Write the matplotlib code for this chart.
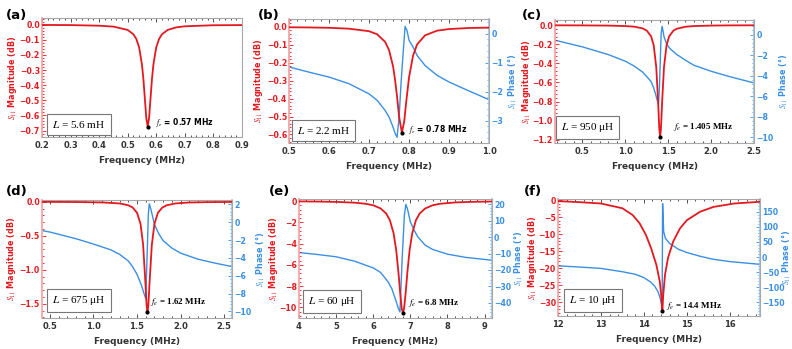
"""S11 magnitude / phase resonance plots for six inductor values, panels (a)-(f)."""

import matplotlib.pyplot as plt
from matplotlib.ticker import AutoMinorLocator

plt.rcParams["mathtext.fontset"] = "stix"
plt.rcParams["font.family"] = "DejaVu Sans"

RED = "#e3191f"
BLUE = "#3b8fe3"
RED_SPINE = "#f3a0a0"
BLUE_SPINE = "#9cc6f0"
GRAY = "#a8a8a8"

# ── (a) L = 5.6 mH ────────────────────────────────────────────────────────
a_freq = [0.20, 0.30, 0.40, 0.45, 0.50, 0.52, 0.53, 0.54, 0.55, 0.555, 0.56, 0.565,
          0.57, 0.575, 0.58, 0.585, 0.59, 0.60, 0.61, 0.62, 0.64, 0.67, 0.70, 0.80, 0.90]
a_mag = [-0.001, -0.002, -0.006, -0.012, -0.034, -0.063, -0.093, -0.149, -0.264, -0.359,
         -0.486, -0.615, -0.675, -0.615, -0.486, -0.359, -0.264, -0.149, -0.093, -0.063,
         -0.034, -0.017, -0.010, -0.003, -0.002]

# ── (b) L = 2.2 mH ────────────────────────────────────────────────────────
b_freq = [0.50, 0.55, 0.60, 0.65, 0.70, 0.72, 0.74, 0.75, 0.76, 0.765, 0.77, 0.775, 0.782,
          0.788, 0.793, 0.80, 0.81, 0.82, 0.84, 0.87, 0.90, 0.95, 1.00]
b_mag = [-0.002, -0.003, -0.005, -0.010, -0.024, -0.041, -0.083, -0.13, -0.22, -0.295,
         -0.39, -0.50, -0.59, -0.525, -0.415, -0.28, -0.16, -0.098, -0.047, -0.021,
         -0.012, -0.006, -0.004]
b_phase_freq = [0.50, 0.55, 0.60, 0.65, 0.70, 0.72, 0.74, 0.75, 0.76, 0.765, 0.770, 0.775,
                0.780, 0.785, 0.790, 0.795, 0.80, 0.81, 0.82, 0.84, 0.87, 0.90, 0.95, 1.00]
b_phase = [-1.15, -1.33, -1.50, -1.73, -2.08, -2.30, -2.65, -2.88, -3.23, -3.44, -3.58,
           -2.9, -1.7, -0.7, 0.25, 0.1, -0.23, -0.46, -0.75, -1.10, -1.44, -1.67, -1.98, -2.28]

# ── (c) L = 950 µH ────────────────────────────────────────────────────────
c_freq = [0.18, 0.5, 0.8, 1.0, 1.1, 1.2, 1.25, 1.3, 1.33, 1.36, 1.38, 1.395, 1.405, 1.415,
          1.43, 1.45, 1.48, 1.51, 1.56, 1.6, 1.7, 1.8, 2.0, 2.2, 2.5]
c_mag = [-0.001, -0.002, -0.004, -0.009, -0.015, -0.033, -0.057, -0.117, -0.209, -0.44,
         -0.775, -1.08, -1.17, -1.08, -0.775, -0.44, -0.209, -0.117, -0.057, -0.037,
         -0.016, -0.009, -0.004, -0.002, -0.001]
c_phase_freq = [0.18, 0.5, 0.8, 1.0, 1.1, 1.2, 1.26, 1.3, 1.33, 1.355, 1.37, 1.387, 1.397,
                1.407, 1.417, 1.428, 1.438, 1.45, 1.48, 1.52, 1.6, 1.7, 1.8, 2.0, 2.2, 2.5]
c_phase = [-0.55, -1.2, -1.95, -2.6, -3.06, -3.65, -4.2, -4.6, -5.2, -5.9, -6.4, -6.75,
           -5.1, -2.5, 0.1, 0.8, 0.4, -0.2, -0.9, -1.37, -1.95, -2.5, -3.0, -3.58, -4.07, -4.72]

# ── (d) L = 675 µH ────────────────────────────────────────────────────────
d_freq = [0.41, 0.8, 1.1, 1.3, 1.4, 1.45, 1.5, 1.54, 1.57, 1.595, 1.61, 1.62, 1.63, 1.645,
          1.67, 1.70, 1.74, 1.79, 1.84, 1.94, 2.1, 2.3, 2.59]
d_mag = [-0.002, -0.004, -0.010, -0.025, -0.052, -0.085, -0.162, -0.324, -0.632, -1.165,
         -1.525, -1.62, -1.525, -1.165, -0.632, -0.324, -0.162, -0.085, -0.052, -0.025,
         -0.011, -0.006, -0.003]
d_phase_freq = [0.41, 0.5, 0.8, 1.0, 1.2, 1.3, 1.4, 1.45, 1.5, 1.55, 1.58, 1.60, 1.615, 1.63,
                1.64, 1.66, 1.7, 1.75, 1.8, 1.9, 2.0, 2.2, 2.4, 2.59]
d_phase = [-0.94, -1.1, -1.85, -2.45, -3.1, -3.6, -4.35, -5.0, -5.85, -7.05, -8.0, -8.57,
           -4.0, 0.87, 2.07, 1.43, -0.26, -1.3, -2.07, -2.9, -3.47, -4.15, -4.6, -4.98]

# ── (e) L = 60 µH ─────────────────────────────────────────────────────────
e_freq = [4.0, 4.5, 5.0, 5.5, 5.8, 6.0, 6.2, 6.35, 6.45, 6.55, 6.62, 6.68, 6.73, 6.77, 6.8,
          6.83, 6.87, 6.92, 6.98, 7.05, 7.15, 7.25, 7.4, 7.6, 7.8, 8.2, 8.6, 9.2]
e_mag = [-0.034, -0.05, -0.082, -0.157, -0.26, -0.40, -0.70, -1.18, -1.81, -3.05, -4.63,
         -6.72, -8.8, -10.14, -10.5, -10.14, -8.8, -6.72, -4.63, -3.05, -1.81, -1.18, -0.70,
         -0.40, -0.26, -0.134, -0.082, -0.046]
e_phase_freq = [4.0, 4.5, 5.0, 5.5, 6.0, 6.2, 6.4, 6.5, 6.6, 6.68, 6.72, 6.78, 6.84, 6.88,
                6.92, 7.0, 7.1, 7.2, 7.4, 7.6, 8.0, 8.5, 9.2]
e_phase = [-9.4, -10.6, -12.0, -14.7, -18.8, -21.6, -27.3, -31.4, -38.0, -43.7, -45.7,
           -13.0, 13.5, 20.0, 17.5, 9.4, 4.3, 0.2, -4.9, -7.5, -10.4, -12.4, -14.1]

# ── (f) L = 10 µH ─────────────────────────────────────────────────────────
f_freq = [12.0, 12.5, 13.0, 13.5, 13.74, 13.9, 14.05, 14.17, 14.29, 14.37, 14.41, 14.43,
          14.45, 14.49, 14.56, 14.68, 14.84, 15.0, 15.31, 15.62, 16.1, 16.7]
f_mag = [-0.3, -0.6, -1.0, -2.4, -4.4, -6.8, -10.3, -14.2, -19.0, -23.9, -28.8, -32.5,
         -27.8, -22.0, -17.0, -12.2, -8.3, -5.9, -3.4, -2.0, -1.0, -0.5]
f_phase_freq = [12.0, 12.5, 13.0, 13.5, 13.8, 14.0, 14.15, 14.25, 14.33, 14.38, 14.41,
                14.425, 14.435, 14.46, 14.5, 14.6, 14.8, 15.0, 15.3, 15.6, 16.0, 16.7]
f_phase = [-29, -33, -37.5, -48.5, -57, -68, -82, -96, -115, -137, -159, -175, 177, 84,
           62, 45, 26, 15, 3, -7, -15, -24]


def style_axis(ax, color, side, spine_color):
    ax.tick_params(axis="y", which="both", direction="in", colors=color, labelsize=5.6,
                   width=0.6, left=(side == "left"), right=(side == "right"),
                   labelleft=(side == "left"), labelright=(side == "right"), pad=1.5)
    ax.tick_params(axis="y", which="major", length=3)
    ax.tick_params(axis="y", which="minor", length=1.5)
    ax.yaxis.set_minor_locator(AutoMinorLocator(5))
    for lab in ax.get_yticklabels():
        lab.set_fontweight("bold")
    ax.spines[side].set_color(spine_color)
    ax.spines[side].set_linewidth(1.2)


def panel(rect, freq, mag, xlim, xticks, ylim, yticks, box, note, note_xy, box_xy, lab_x,
          phase_freq=None, phase=None, plim=None, pticks=None, serif_note=False):
    ax = fig.add_axes(rect)
    ax.plot(freq, mag, color=RED, lw=1.3, zorder=3)
    i = mag.index(min(mag))
    ax.set_xlim(*xlim)
    ax.set_ylim(*ylim)
    ax.set_xticks(xticks)
    ax.set_yticks(yticks)
    ax.xaxis.set_minor_locator(AutoMinorLocator(5))
    ax.tick_params(axis="x", which="both", direction="in", top=True, labelsize=6,
                   width=0.6, colors="#333333", pad=3)
    ax.tick_params(axis="x", which="major", length=3)
    ax.tick_params(axis="x", which="minor", length=1.5)
    for lab in ax.get_xticklabels():
        lab.set_fontweight("bold")
    for s in ("top", "bottom", "right"):
        ax.spines[s].set_color(GRAY)
        ax.spines[s].set_linewidth(0.8)
    style_axis(ax, RED, "left", RED_SPINE)
    ax.set_ylabel(r"$S_{11}$ Magnitude (dB)", color=RED, fontsize=5.8, fontweight="bold")
    ax.yaxis.set_label_coords(lab_x[0], 0.5)
    ax.set_xlabel("Frequency (MHz)", fontsize=6.5, fontweight="bold", color="#333333",
                  labelpad=4)

    if phase is not None:
        ax2 = ax.twinx()
        ax2.plot(phase_freq, phase, color=BLUE, lw=1.0, zorder=2)
        ax2.set_ylim(*plim)
        ax2.set_yticks(pticks)
        style_axis(ax2, BLUE, "right", BLUE_SPINE)
        for s in ("top", "bottom", "left"):
            ax2.spines[s].set_visible(False)
        ax2.set_ylabel(r"$S_{11}$ Phase (°)", color=BLUE, fontsize=5.8, fontweight="bold")
        ax2.yaxis.set_label_coords(lab_x[1], 0.5)
        ax.set_zorder(ax2.get_zorder() + 1)
        ax.patch.set_visible(False)

    ax.plot(freq[i], mag[i], "o", color="black", ms=2, zorder=5)
    if serif_note:
        ax.text(*note_xy, note, fontsize=6.5, fontweight="bold", family="Liberation Serif",
                va="center", zorder=6)
    else:
        ax.text(*note_xy, note, fontsize=5.5, fontweight="bold", va="center", zorder=6)
    ax.text(*box_xy, box, transform=ax.transAxes, fontsize=8, family="Liberation Serif",
            ha="center", va="center", zorder=6,
            bbox=dict(boxstyle="square,pad=0.45", fc="white", ec="#777777", lw=0.8))
    return ax


fig = plt.figure(figsize=(7.92, 3.49), dpi=100)
fig.patch.set_facecolor("white")

panel([0.053, 0.607, 0.2525, 0.341], a_freq, a_mag, (0.2, 0.9),
      [0.2, 0.3, 0.4, 0.5, 0.6, 0.7, 0.8, 0.9], (-0.744, 0.044),
      [0.0, -0.1, -0.2, -0.3, -0.4, -0.5, -0.6, -0.7],
      r"$L$ = 5.6 mH", r"$f_e$ = 0.57 MHz", (0.595, -0.645), (0.185, 0.11), (-0.115, None))

panel([0.365, 0.590, 0.2525, 0.355], b_freq, b_mag, (0.5, 1.0),
      [0.5, 0.6, 0.7, 0.8, 0.9, 1.0], (-0.648, 0.043),
      [0.0, -0.1, -0.2, -0.3, -0.4, -0.5, -0.6],
      r"$L$ = 2.2 mH", r"$f_e$ = 0.78 MHz", (0.797, -0.57), (0.173, 0.1), (-0.12, 1.09),
      b_phase_freq, b_phase, (-3.78, 0.5), [0, -1, -2, -3])

panel([0.7008, 0.590, 0.2513, 0.352], c_freq, c_mag, (0.18, 2.5),
      [0.5, 1.0, 1.5, 2.0, 2.5], (-1.235, 0.052),
      [0.0, -0.2, -0.4, -0.6, -0.8, -1.0, -1.2],
      r"$L$ = 950 μH", r"$f_e$ = 1.405 MHz", (1.55, -1.07), (0.165, 0.125), (-0.11, 1.12),
      c_phase_freq, c_phase, (-10.59, 1.4), [0, -2, -4, -6, -8, -10], serif_note=True)

panel([0.053, 0.0888, 0.240, 0.338], d_freq, d_mag, (0.41, 2.59),
      [0.5, 1.0, 1.5, 2.0, 2.5], (-1.71, 0.025),
      [0.0, -0.5, -1.0, -1.5],
      r"$L$ = 675 μH", r"$f_e$ = 1.62 MHz", (1.65, -1.475), (0.195, 0.145), (-0.126, 1.12),
      d_phase_freq, d_phase, (-10.75, 2.49), [2, 0, -2, -4, -6, -8, -10], serif_note=True)

panel([0.3775, 0.0888, 0.2437, 0.341], e_freq, e_mag, (4.0, 9.2),
      [4, 5, 6, 7, 8, 9], (-11.0, 0.19),
      [0, -2, -4, -6, -8, -10],
      r"$L$ = 60 μH", r"$f_e$ = 6.8 MHz", (6.95, -9.6), (0.171, 0.142), (-0.098, 1.109),
      e_phase_freq, e_phase, (-49.4, 23.3), [20, 10, 0, -10, -20, -30, -40], serif_note=True)

panel([0.7045, 0.0946, 0.255, 0.335], f_freq, f_mag, (12.0, 16.7),
      [12, 13, 14, 15, 16], (-34.0, 0.3),
      [0, -5, -10, -15, -20, -25, -30],
      r"$L$ = 10 μH", r"$f_e$ = 14.4 MHz", (14.51, -31.1), (0.172, 0.13), (-0.092, 1.104),
      f_phase_freq, f_phase, (-195, 192), [150, 100, 50, 0, -50, -100, -150],
      serif_note=True)

for x, y, lab in [(0.008, 0.957, "(a)"), (0.326, 0.957, "(b)"), (0.659, 0.957, "(c)"),
                  (0.008, 0.452, "(d)"), (0.339, 0.452, "(e)"), (0.662, 0.452, "(f)")]:
    fig.text(x, y, lab, fontsize=9.5, fontweight="bold", va="center")

fig.savefig("out.png", dpi=100, facecolor="white")
